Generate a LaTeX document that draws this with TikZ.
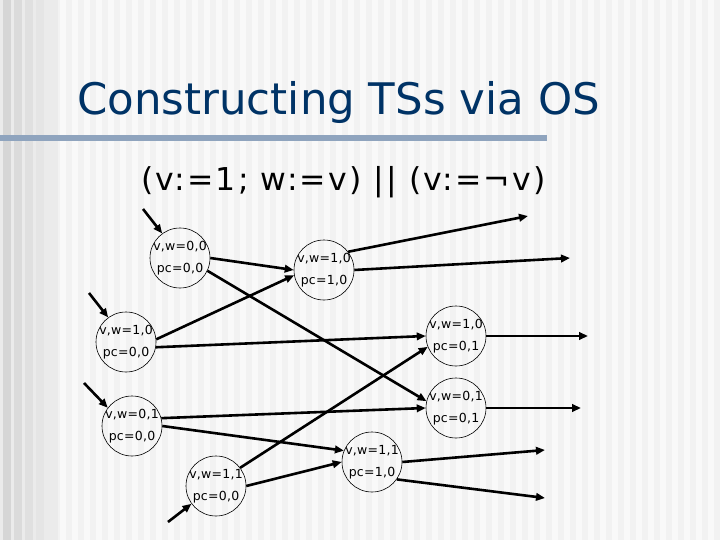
\documentclass[tikz,border=0pt]{standalone}
\usepackage{fontspec}
\setmainfont{DejaVu Sans}
\newfontfamily\labelfont[LetterSpace=2]{DejaVu Sans}
\newfontfamily\exprfont[LetterSpace=6.8]{DejaVu Sans}
\usetikzlibrary{arrows.meta}
\definecolor{titleblue}{RGB}{0,51,102}
\definecolor{barblue}{RGB}{143,164,190}
\definecolor{bglight}{RGB}{242,242,242}
\definecolor{bgstripe}{RGB}{249,249,249}

\begin{document}
\begin{tikzpicture}[x=1pt, y=-1pt, >={Triangle[length=9pt,width=7.5pt]}]
  % Styles
  \tikzstyle{state} = [draw, circle, line width=0.6pt, minimum size=60pt, inner sep=-2pt, align=center, font=\labelfont\fontsize{12.5}{22}\selectfont]
  \tikzstyle{trans} = [->, line width=2.6pt]

  % Background
  \useasboundingbox (0,0) rectangle (720,540);
  \fill[bglight] (0,0) rectangle (720,540);
  \foreach \x in {60,72,...,708}
    \fill[bgstripe] (\x,0) rectangle ++(6,540);
  \fill[black!8] (0,0) rectangle (58,540);
  \foreach \i in {0,...,4} {
    \pgfmathtruncatemacro{\shade}{16-2*\i}
    \fill[black!\shade] (3+11*\i,0) rectangle ++(8,540);
  }
  \fill[barblue] (0,135) rectangle (547,141);

  % Texts
  \node[anchor=base west, inner sep=0pt, text=titleblue, font=\fontsize{43.5}{50}\selectfont] (title) at (77,115) {Constructing TSs via OS};
  \node[anchor=base west, inner sep=0pt, font=\exprfont\fontsize{31.5}{36}\selectfont] (expr) at (141,191) {(v:=1; w:=v) || (v:=¬v)};

  % Nodes
  \node [state] (n00p00) at (180,258) {v,w=0,0\\pc=0,0};
  \node [state] (n10p10) at (324,270) {v,w=1,0\\pc=1,0};
  \node [state] (n10p00) at (126,342) {v,w=1,0\\pc=0,0};
  \node [state] (n10p01) at (456,336) {v,w=1,0\\pc=0,1};
  \node [state] (n01p01) at (456,408) {v,w=0,1\\pc=0,1};
  \node [state] (n01p00) at (132,426) {v,w=0,1\\pc=0,0};
  \node [state] (n11p10) at (372,462) {v,w=1,1\\pc=1,0};
  \node [state] (n11p00) at (216,486) {v,w=1,1\\pc=0,0};

  \coordinate (in00) at (143,209);
  \coordinate (in10) at (89,293);
  \coordinate (in01) at (84,383);
  \coordinate (in11) at (168,522);
  \coordinate (out1) at (528,216);
  \coordinate (out2) at (570,258);
  \coordinate (out3) at (588,336);
  \coordinate (out4) at (581,408);
  \coordinate (out5) at (545,450);
  \coordinate (out6) at (545,498);

  % Connections
  \draw [trans] (in00) -- (n00p00.126);
  \draw [trans] (in10) -- (n10p00.126);
  \draw [trans] (in01) -- (n01p00.143);
  \draw [trans] (in11) -- (n11p00.216);
  \draw [trans] (n00p00.0) -- (n10p10.180);
  \draw [trans] (n00p00.-25) -- (n01p01.167);
  \draw [trans] (n10p00.5) -- (n10p10.190);
  \draw [trans] (n10p00.-10) -- (n10p01.180);
  \draw [trans] (n01p00.15) -- (n01p01.180);
  \draw [trans] (n01p00.0) -- (n11p10.158);
  \draw [trans] (n11p00.37) -- (n10p01.201);
  \draw [trans] (n11p00.0) -- (n11p10.180);
  \draw [trans] (n10p10.37) -- (out1);
  \draw [trans] (n10p10.0) -- (out2);
  \draw [trans] (n10p01.0) -- (out3);
  \draw [trans] (n01p01.0) -- (out4);
  \draw [trans] (n11p10.0) -- (out5);
  \draw [trans] (n11p10.-35) -- (out6);

\end{tikzpicture}
\end{document}
